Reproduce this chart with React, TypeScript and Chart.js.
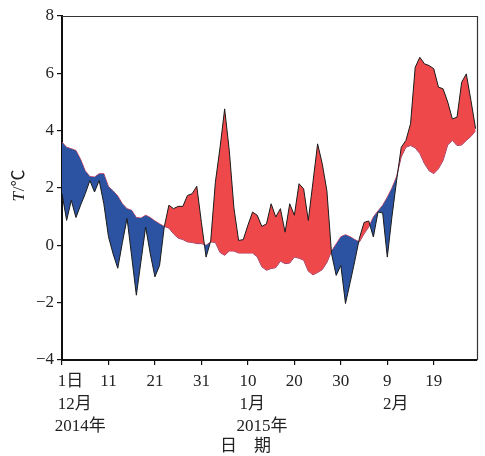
import React, { useEffect, useRef } from 'react';
import { Chart, registerables } from 'chart.js';

Chart.register(...registerables);

// Daily mean temperature, 1 Dec 2014 – 28 Feb 2015 (°C)
const actualTemp = [
  1.8, 0.87, 1.57, 0.97, 1.4, 1.8, 2.26, 1.86, 2.26, 1.45,
  0.3, -0.3, -0.8, 0.1, 0.94, -0.4, -1.74, -0.55, 0.64, -0.3,
  -1.1, -0.7, 0.64, 1.4, 1.28, 1.36, 1.36, 1.74, 1.8, 2.06,
  0.8, -0.41, 0.15, 2.2, 3.4, 4.76, 3.3, 1.3, 0.17, 0.2,
  0.7, 1.16, 1.05, 0.66, 0.75, 1.45, 0.99, 1.28, 0.46, 1.45,
  1.05, 2.15, 1.97, 0.87, 2.2, 3.54, 2.85, 1.9, -0.29, -1.05,
  -0.7, -2.03, -1.3, -0.55, 0.25, 0.8, 0.85, 0.29, 1.16, 1.13,
  -0.41, 1.0, 2.26, 3.42, 3.66, 4.24, 6.21, 6.56, 6.33, 6.27,
  6.16, 5.52, 5.46, 5.0, 4.41, 4.47, 5.69, 5.98, 5.05, 4.07,
];

// Climatological normal for the same days (°C)
const normalTemp = [
  3.6, 3.42, 3.37, 3.31, 3.0, 2.6, 2.4, 2.38, 2.5, 2.5,
  2.05, 1.9, 1.72, 1.45, 1.28, 1.22, 0.97, 0.95, 1.05, 0.97,
  0.85, 0.75, 0.66, 0.6, 0.4, 0.25, 0.2, 0.12, 0.1, 0.06,
  0.06, 0.0, 0.12, 0.1, -0.25, -0.35, -0.2, -0.2, -0.27, -0.27,
  -0.27, -0.27, -0.4, -0.75, -0.87, -0.81, -0.78, -0.55, -0.64, -0.62,
  -0.41, -0.45, -0.52, -0.9, -1.03, -0.95, -0.85, -0.6, -0.2, 0.05,
  0.3, 0.37, 0.3, 0.2, 0.12, 0.4, 0.64, 0.99, 1.2, 1.4,
  1.68, 2.0, 2.4, 3.08, 3.42, 3.48, 3.4, 3.2, 2.85, 2.6,
  2.5, 2.67, 2.96, 3.5, 3.66, 3.48, 3.5, 3.66, 3.8, 4.0,
];

// Day offsets (from 1 Dec) that carry a tick, and their label lines
const tickDays = [0, 10, 20, 30, 40, 50, 60, 70, 80];
const dayLabels = ['1', '11', '21', '31', '10', '20', '30', '9', '19'];
const daySuffix = ['日', '', '', '', '', '', '', '', ''];
const monthLabels = ['12月', '', '', '', '1月', '', '', '2月', ''];
const yearLabels = ['2014年', '', '', '', '2015年', '', '', '', ''];
const xTitle = '日　期';
const yTitleItalic = 'T';
const yTitleRest = '/℃';

const FONT = "'Liberation Serif', 'Noto Sans CJK SC', serif";
const TEXT = '#222';
const ABOVE = '#EE484A';
const BELOW = '#2B53A1';

const axisTextPlugin = {
  id: 'axisText',
  afterDraw(chart: any) {
    const ctx = chart.ctx as CanvasRenderingContext2D;
    const xs = chart.scales.x;
    const area = chart.chartArea;
    ctx.save();

    // frame: top and right edges
    ctx.strokeStyle = '#333';
    ctx.lineWidth = 1.2;
    ctx.beginPath();
    ctx.moveTo(area.left, area.top + 0.5);
    ctx.lineTo(area.right + 0.5, area.top + 0.5);
    ctx.lineTo(area.right + 0.5, area.bottom);
    ctx.stroke();

    // multi-line date labels
    ctx.fillStyle = TEXT;
    ctx.font = `17px ${FONT}`;
    ctx.textBaseline = 'middle';
    ctx.textAlign = 'left';
    tickDays.forEach((d, i) => {
      const px = xs.getPixelForValue(d);
      const num = dayLabels[i];
      const w = ctx.measureText(num).width;
      const left = px - w / 2;
      ctx.fillText(num + daySuffix[i], left, area.bottom + 22);
      if (monthLabels[i]) ctx.fillText(monthLabels[i], left, area.bottom + 45);
      if (yearLabels[i]) ctx.fillText(yearLabels[i], left - 3, area.bottom + 67);
    });

    // x title
    ctx.textAlign = 'center';
    ctx.fillText(xTitle, chart.width / 2 + 3, area.bottom + 87);

    // y title (rotated, italic variable)
    ctx.translate(20, 186);
    ctx.rotate(-Math.PI / 2);
    ctx.textAlign = 'left';
    ctx.font = `italic 17px ${FONT}`;
    const wi = ctx.measureText(yTitleItalic).width;
    ctx.font = `17px ${FONT}`;
    const wr = ctx.measureText(yTitleRest).width;
    const start = -(wi + wr) / 2;
    ctx.font = `italic 17px ${FONT}`;
    ctx.fillText(yTitleItalic, start, 0);
    ctx.font = `17px ${FONT}`;
    ctx.fillText(yTitleRest, start + wi + 1, 0);

    ctx.restore();
  },
};

export default function App() {
  const canvasRef = useRef<HTMLCanvasElement | null>(null);

  useEffect(() => {
    const canvas = canvasRef.current;
    if (!canvas) return;
    const chart = new Chart(canvas, {
      type: 'line',
      data: {
        datasets: [
          {
            label: 'actual',
            data: actualTemp.map((v, i) => ({ x: i, y: v })),
            borderColor: '#1a1a1a',
            borderWidth: 1,
            pointRadius: 0,
            tension: 0,
            fill: { target: 1, above: ABOVE, below: BELOW },
          },
          {
            label: 'normal',
            data: normalTemp.map((v, i) => ({ x: i, y: v })),
            borderColor: '#c03a5e',
            borderWidth: 1,
            pointRadius: 0,
            tension: 0,
            fill: false,
          },
        ],
      },
      options: {
        responsive: false,
        animation: false,
        events: [],
        layout: { padding: { left: 0, right: 8, top: 16, bottom: 0 } },
        plugins: {
          legend: { display: false },
          tooltip: { enabled: false },
        },
        scales: {
          x: {
            type: 'linear',
            min: 0,
            max: 89.3,
            afterBuildTicks: (s: any) => {
              s.ticks = tickDays.map((v) => ({ value: v }));
            },
            afterFit: (s: any) => {
              s.height = 96;
            },
            ticks: { display: false },
            grid: {
              drawOnChartArea: false,
              drawTicks: true,
              tickLength: 5,
              color: '#111',
              lineWidth: 1.2,
            },
            border: { display: true, color: '#111', width: 2 },
          },
          y: {
            type: 'linear',
            min: -4,
            max: 8,
            afterFit: (s: any) => {
              s.width = 62;
            },
            ticks: {
              stepSize: 2,
              color: TEXT,
              padding: 3,
              font: { family: FONT, size: 17 },
              callback: (v: any) => (Number(v) < 0 ? '\u2212' + Math.abs(Number(v)) : String(v)),
            },
            grid: {
              drawOnChartArea: false,
              drawTicks: true,
              tickLength: 5,
              color: '#111',
              lineWidth: 1.2,
            },
            border: { display: true, color: '#111', width: 2 },
          },
        },
      },
      plugins: [axisTextPlugin],
    });
    return () => chart.destroy();
  }, []);

  return (
    <div style={{ position: 'absolute', left: 0, top: 0, width: 485, height: 456, background: '#fff' }}>
      <canvas ref={canvasRef} width={485} height={456} />
    </div>
  );
}
